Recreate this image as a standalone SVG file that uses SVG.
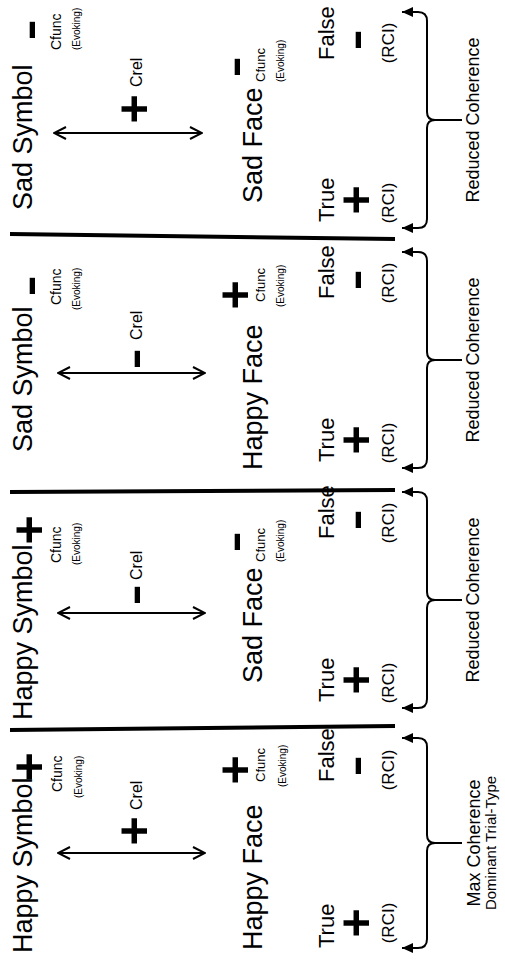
<svg xmlns="http://www.w3.org/2000/svg" width="505" height="970" viewBox="0 0 505 970">
<defs>
<style>
text{font-family:"Liberation Sans",Arial,Helvetica,sans-serif;fill:#000}
.big{font-size:27px}
.cf{font-size:14px}
.cr{font-size:16px}
.cff{font-size:13px}
.ev{font-size:10px}
.tf{font-size:22px}
.rci{font-size:17px;text-anchor:middle}
.coh{font-size:18px;text-anchor:middle}
.dom{font-size:15px;text-anchor:middle}
.pl{font-size:50px;font-weight:bold;text-anchor:middle}
.mi{font-size:44px;font-weight:bold;text-anchor:middle}
.sep{stroke:#000;stroke-width:4;fill:none}
.stem{stroke:#000;stroke-width:2;fill:none}
.dbl{stroke:#000;stroke-width:2;fill:none;marker-start:url(#va);marker-end:url(#va)}
.brace{stroke:#000;stroke-width:2;fill:none;marker-start:url(#ta);marker-end:url(#ta)}
</style>
<marker id="va" viewBox="0 0 14 14" refX="13" refY="7" markerWidth="14" markerHeight="14" markerUnits="userSpaceOnUse" orient="auto-start-reverse">
<path d="M1,1 L13,7 L1,13" fill="none" stroke="#000" stroke-width="2"/>
</marker>
<marker id="ta" viewBox="0 0 12 12" refX="11" refY="6" markerWidth="12" markerHeight="12" markerUnits="userSpaceOnUse" orient="auto-start-reverse">
<path d="M0,1 L11,6 L0,11 Z" fill="#000"/>
</marker>
</defs>
<g transform="translate(0,970) rotate(-90)">
<g id="separators">
<line class="sep" x1="736" y1="10" x2="731" y2="395"/>
<line class="sep" x1="478" y1="10" x2="480" y2="395"/>
<line class="sep" x1="240" y1="10" x2="244" y2="395"/>
</g>
<g id="connectors">
<line class="dbl" x1="837" y1="54" x2="837" y2="202"/>
<line class="dbl" x1="597" y1="58" x2="597" y2="205"/>
<line class="dbl" x1="357" y1="58" x2="357" y2="205"/>
<line class="dbl" x1="117" y1="58" x2="117" y2="205"/>
<path class="brace" d="M742,402 L742,418 Q742,427 751,427 L842,427 Q850,427 850,435 Q850,427 858,427 L949,427 Q958,427 958,418 L958,402"/>
<path class="brace" d="M502,402 L502,418 Q502,427 511,427 L602,427 Q610,427 610,435 Q610,427 618,427 L709,427 Q718,427 718,418 L718,402"/>
<path class="brace" d="M262,402 L262,418 Q262,427 271,427 L362,427 Q370,427 370,435 Q370,427 378,427 L469,427 Q478,427 478,418 L478,402"/>
<path class="brace" d="M22,402 L22,418 Q22,427 31,427 L119,427 Q127,427 127,435 Q127,427 135,427 L223,427 Q232,427 232,418 L232,402"/>
<line class="stem" x1="850" y1="435" x2="850" y2="462"/>
<line class="stem" x1="610" y1="435" x2="610" y2="462"/>
<line class="stem" x1="370" y1="435" x2="370" y2="462"/>
<line class="stem" x1="127" y1="435" x2="127" y2="462"/>
</g>
<g id="panel-max">
<g id="n-happy-symbol-1"><text class="big" x="17" y="32">Happy Symbol</text><text class="pl" x="203" y="46">+</text><text class="cf" x="178" y="62">Cfunc</text><text class="ev" x="172" y="82">(Evoking)</text></g>
<g id="n-crel-1"><text class="pl" x="139" y="151">+</text><text class="cr" x="160" y="142">Crel</text></g>
<g id="n-happy-face-1"><text class="big" x="20" y="262">Happy Face</text><text class="pl" x="200" y="252">+</text><text class="cff" x="188" y="265">Cfunc</text><text class="ev" x="183" y="286">(Evoking)</text></g>
<g id="n-false-1"><text class="tf" x="188" y="334">False</text><text class="mi" transform="translate(204,370) scale(1.45,1)">-</text><text class="rci" x="200" y="394">(RCI)</text></g>
<g id="n-true-1"><text class="tf" x="22" y="334">True</text><text class="pl" x="47" y="373">+</text><text class="rci" x="47" y="394">(RCI)</text></g>
<g id="n-coh-1"><text class="coh" x="127" y="480">Max Coherence</text><text class="dom" x="127" y="496">Dominant Trial-Type</text></g>
</g>
<g id="panel-2">
<g id="n-happy-symbol-2"><text class="big" x="250" y="32">Happy Symbol</text><text class="pl" x="440" y="46">+</text><text class="cf" x="407" y="61">Cfunc</text><text class="ev" x="405" y="80">(Evoking)</text></g>
<g id="n-crel-2"><text class="mi" transform="translate(375,149) scale(1.45,1)">-</text><text class="cr" x="390" y="142">Crel</text></g>
<g id="n-sad-face-2"><text class="big" x="287" y="262">Sad Face</text><text class="mi" transform="translate(428,249) scale(1.45,1)">-</text><text class="cff" x="408" y="265">Cfunc</text><text class="ev" x="408" y="284">(Evoking)</text></g>
<g id="n-false-2"><text class="tf" x="431" y="334">False</text><text class="mi" transform="translate(450,370) scale(1.45,1)">-</text><text class="rci" x="447" y="394">(RCI)</text></g>
<g id="n-true-2"><text class="tf" x="268" y="334">True</text><text class="pl" x="290" y="373">+</text><text class="rci" x="287" y="394">(RCI)</text></g>
<g id="n-coh-2"><text class="coh" x="370" y="479">Reduced Coherence</text></g>
</g>
<g id="panel-3">
<g id="n-sad-symbol-3"><text class="big" x="518" y="32">Sad Symbol</text><text class="mi" transform="translate(684,44) scale(1.45,1)">-</text><text class="cf" x="665" y="61">Cfunc</text><text class="ev" x="660" y="80">(Evoking)</text></g>
<g id="n-crel-3"><text class="mi" transform="translate(611,149) scale(1.45,1)">-</text><text class="cr" x="630" y="142">Crel</text></g>
<g id="n-happy-face-3"><text class="big" x="500" y="262">Happy Face</text><text class="pl" x="675" y="252">+</text><text class="cff" x="668" y="265">Cfunc</text><text class="ev" x="663" y="284">(Evoking)</text></g>
<g id="n-false-3"><text class="tf" x="671" y="334">False</text><text class="mi" transform="translate(690,370) scale(1.45,1)">-</text><text class="rci" x="687" y="394">(RCI)</text></g>
<g id="n-true-3"><text class="tf" x="508" y="334">True</text><text class="pl" x="530" y="373">+</text><text class="rci" x="527" y="394">(RCI)</text></g>
<g id="n-coh-3"><text class="coh" x="610" y="479">Reduced Coherence</text></g>
</g>
<g id="panel-4">
<g id="n-sad-symbol-4"><text class="big" x="760" y="32">Sad Symbol</text><text class="mi" transform="translate(940,44) scale(1.45,1)">-</text><text class="cf" x="920" y="61">Cfunc</text><text class="ev" x="920" y="80">(Evoking)</text></g>
<g id="n-crel-4"><text class="pl" x="861" y="151">+</text><text class="cr" x="883" y="142">Crel</text></g>
<g id="n-sad-face-4"><text class="big" x="767" y="262">Sad Face</text><text class="mi" transform="translate(903,249) scale(1.45,1)">-</text><text class="cff" x="888" y="265">Cfunc</text><text class="ev" x="888" y="284">(Evoking)</text></g>
<g id="n-false-4"><text class="tf" x="910" y="334">False</text><text class="mi" transform="translate(930,370) scale(1.45,1)">-</text><text class="rci" x="927" y="394">(RCI)</text></g>
<g id="n-true-4"><text class="tf" x="748" y="334">True</text><text class="pl" x="770" y="373">+</text><text class="rci" x="767" y="394">(RCI)</text></g>
<g id="n-coh-4"><text class="coh" x="850" y="479">Reduced Coherence</text></g>
</g>
</g>
</svg>
